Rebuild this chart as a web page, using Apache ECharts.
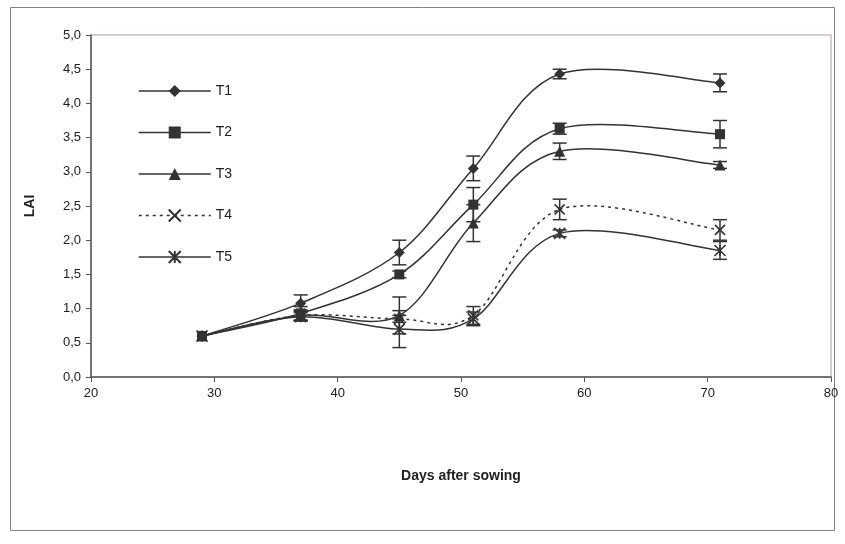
<!DOCTYPE html>
<html>
<head>
<meta charset="utf-8">
<script src="https://cdn.jsdelivr.net/npm/echarts@6/dist/echarts.min.js"></script>
<style>
html,body{margin:0;padding:0;background:#fff;}
#c{width:845px;height:544px;}
</style>
</head>
<body>
<div id="c"></div>
<script>
var days = [29, 37, 45, 51, 58, 71];
var seriesNames = ['T1', 'T2', 'T3', 'T4', 'T5'];
var t1 = [0.6, 1.08, 1.82, 3.05, 4.43, 4.30];
var t2 = [0.6, 0.93, 1.50, 2.52, 3.63, 3.55];
var t3 = [0.6, 0.90, 0.90, 2.25, 3.30, 3.10];
var t4 = [0.6, 0.90, 0.85, 0.90, 2.45, 2.15];
var t5 = [0.6, 0.88, 0.70, 0.85, 2.10, 1.85];
var e1 = [0, 0.12, 0.18, 0.18, 0.07, 0.13];
var e2 = [0, 0.10, 0.05, 0.25, 0.08, 0.20];
var e3 = [0, 0.08, 0.27, 0.27, 0.12, 0.05];
var e4 = [0, 0.07, 0.05, 0.13, 0.15, 0.15];
var e5 = [0, 0.06, 0.27, 0.10, 0.05, 0.13];
var yTicks = ['0,0','0,5','1,0','1,5','2,0','2,5','3,0','3,5','4,0','4,5','5,0'];

var values = [t1, t2, t3, t4, t5];
var errs = [e1, e2, e3, e4, e5];
var symbols = [
  'diamond',
  'rect',
  'triangle',
  'path://M0,0L10,10M10,0L0,10',
  'path://M0,0L10,10M10,0L0,10M5,0L5,10'
];
var symSizes = [11, 10, 11, 10, 11];
var dark = '#333333';
var font = 'Liberation Sans, Arial, sans-serif';

var series = [];
// smoothed curves (Excel-like Catmull-Rom Bezier) drawn through the axes
values.forEach(function (vals, k) {
  series.push({
    type: 'custom',
    name: 'curve' + k,
    data: days.map(function (d, i) { return [d, vals[i]]; }),
    z: 2,
    silent: true,
    animation: false,
    renderItem: function (params, api) {
      var i = params.dataIndex;
      var n = days.length;
      if (i >= n - 1) return null;
      function P(j) {
        j = Math.max(0, Math.min(n - 1, j));
        return api.coord([days[j], vals[j]]);
      }
      var p0 = P(i - 1), p1 = P(i), p2 = P(i + 1), p3 = P(i + 2);
      return {
        type: 'bezierCurve',
        shape: {
          x1: p1[0], y1: p1[1],
          cpx1: p1[0] + (p2[0] - p0[0]) / 6, cpy1: p1[1] + (p2[1] - p0[1]) / 6,
          cpx2: p2[0] - (p3[0] - p1[0]) / 6, cpy2: p2[1] - (p3[1] - p1[1]) / 6,
          x2: p2[0], y2: p2[1]
        },
        style: {
          fill: null, stroke: dark, lineWidth: 1.5,
          lineDash: k === 3 ? [3, 4] : null
        }
      };
    }
  });
});
// markers + legend entries
values.forEach(function (vals, k) {
  var isLine = k >= 3;
  series.push({
    name: seriesNames[k],
    type: 'line',
    data: days.map(function (d, i) { return [d, vals[i]]; }),
    symbol: symbols[k],
    symbolSize: symSizes[k],
    showAllSymbol: true,
    lineStyle: { color: dark, width: 1.5, opacity: 0, type: k === 3 ? [3, 4] : 'solid' },
    itemStyle: isLine ? { color: 'rgba(0,0,0,0)', borderColor: dark, borderWidth: 1.6 }
                      : { color: dark, borderColor: dark, borderWidth: 0 },
    z: 3,
    animation: false
  });
});
// error bars
errs.forEach(function (ev, k) {
  var data = [];
  days.forEach(function (d, i) {
    if (ev[i] > 0) data.push([d, values[k][i] - ev[i], values[k][i] + ev[i]]);
  });
  series.push({
    type: 'custom',
    name: 'err' + k,
    data: data,
    z: 4,
    silent: true,
    animation: false,
    renderItem: function (params, api) {
      var lo = api.coord([api.value(0), api.value(1)]);
      var hi = api.coord([api.value(0), api.value(2)]);
      var w = 7;
      var st = { stroke: dark, lineWidth: 1.5 };
      return {
        type: 'group',
        children: [
          { type: 'line', shape: { x1: lo[0], y1: lo[1], x2: hi[0], y2: hi[1] }, style: st },
          { type: 'line', shape: { x1: lo[0] - w, y1: lo[1], x2: lo[0] + w, y2: lo[1] }, style: st },
          { type: 'line', shape: { x1: hi[0] - w, y1: hi[1], x2: hi[0] + w, y2: hi[1] }, style: st }
        ]
      };
    }
  });
});

var chart = echarts.init(document.getElementById('c'), null, { renderer: 'canvas' });
chart.setOption({
  backgroundColor: '#ffffff',
  animation: false,
  textStyle: { fontFamily: font },
  graphic: [{
    type: 'rect',
    shape: { x: 10.5, y: 7.5, width: 824, height: 523 },
    style: { fill: 'none', stroke: '#808080', lineWidth: 1 },
    silent: true
  }],
  grid: {
    left: 91, top: 35, right: 14, bottom: 167,
    show: true, borderColor: '#a8a0a0', borderWidth: 1, backgroundColor: 'transparent'
  },
  legend: {
    orient: 'vertical',
    left: 133, top: 79,
    itemWidth: 72, itemHeight: 15, itemGap: 27.5,
    lineStyle: { opacity: 1, width: 1.5 },
    textStyle: { fontFamily: font, fontSize: 14, color: '#222' },
    data: seriesNames
  },
  xAxis: {
    type: 'value', min: 20, max: 80, interval: 10,
    name: 'Days after sowing', nameLocation: 'middle', nameGap: 92,
    nameTextStyle: { fontFamily: font, fontSize: 14, fontWeight: 'bold', color: '#222' },
    axisLine: { show: true, lineStyle: { color: '#555', width: 1.5 } },
    axisTick: { show: true, inside: false, length: 5, lineStyle: { color: '#555' } },
    axisLabel: { fontFamily: font, fontSize: 13, color: '#222', margin: 10 },
    splitLine: { show: false }
  },
  yAxis: {
    type: 'value', min: 0, max: 5, interval: 0.5,
    name: 'LAI', nameLocation: 'middle', nameGap: 54, nameRotate: 90,
    nameTextStyle: { fontFamily: font, fontSize: 14, fontWeight: 'bold', color: '#222' },
    axisLine: { show: true, lineStyle: { color: '#555', width: 1.5 } },
    axisTick: { show: true, inside: false, length: 5, lineStyle: { color: '#555' } },
    axisLabel: {
      fontFamily: font, fontSize: 13, color: '#222', margin: 10,
      formatter: function (v) { return yTicks[Math.round(v / 0.5)]; }
    },
    splitLine: { show: false }
  },
  series: series
});
</script>
</body>
</html>
